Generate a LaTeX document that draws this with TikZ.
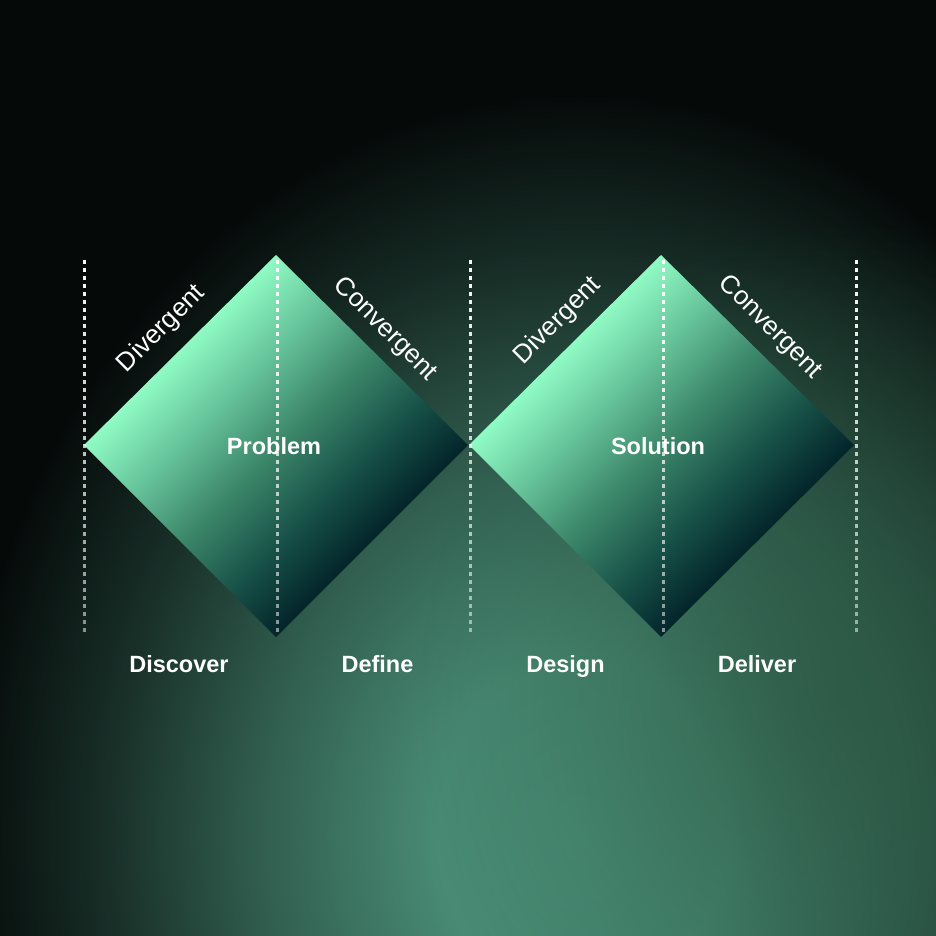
\documentclass[tikz,border=0pt]{standalone}
\usepackage{fontspec}
\setmainfont{Liberation Sans}
\usetikzlibrary{calc, fadings}

\definecolor{bgc}{HTML}{050A09}
\definecolor{side}{HTML}{2C5843}
\definecolor{glow}{HTML}{4B9079}
\definecolor{mint}{HTML}{8FFAC4}
\definecolor{lmid}{HTML}{66C39A}
\definecolor{midg}{HTML}{3C876A}
\definecolor{dmid}{HTML}{164E46}
\definecolor{deep}{HTML}{03252A}

% diamond gradient, light edge to dark edge
\pgfdeclareverticalshading{dmd}{100bp}{color(0bp)=(deep); color(32.3bp)=(deep); color(40bp)=(dmid);
    color(50bp)=(midg); color(59bp)=(lmid); color(67.7bp)=(mint); color(100bp)=(mint)}
% background glow
\pgfdeclareradialshading{glowsh}{\pgfpointorigin}{color(0bp)=(glow); color(6bp)=(glow!95!bgc);
    color(13bp)=(glow!62!bgc); color(19bp)=(glow!28!bgc); color(25bp)=(bgc); color(50bp)=(bgc)}
\tikzfading[name=vfade, top color=transparent!0, bottom color=transparent!50]
\tikzfading[name=glowfade, inner color=transparent!0, outer color=transparent!100]

\begin{document}
\begin{tikzpicture}[x=1pt,y=-1pt,
    dm/.style={shading=dmd, shading angle=45},
    vl/.style={white, line width=3pt, dash pattern=on 4pt off 4pt, path fading=vfade},
    hd/.style={text=white, font=\bfseries\fontsize{23.5}{23.5}\selectfont, inner sep=0pt},
    sd/.style={text=white, font=\fontsize{26}{26}\selectfont, inner sep=0pt}]
            \useasboundingbox (0,0) rectangle (936,936);
            % background
            \fill[bgc] (0,0) rectangle (936,936);
            \begin{scope}
                \clip (0,0) rectangle (936,936);
                \shade[shading=glowsh] (580,835) ellipse (620 and 740);
                \fill[side, opacity=.75, path fading=glowfade] (840,700) ellipse (420 and 480);
            \end{scope}

            % corners of the two diamonds
            \coordinate (pL) at (84,445);
            \coordinate (pT) at (276,255);
            \coordinate (pR) at (468,445);
            \coordinate (pB) at (276,637);
            \coordinate (sL) at (469,445);
            \coordinate (sT) at (661,255);
            \coordinate (sR) at (854,445);
            \coordinate (sB) at (661,637);

            \shade[dm] (pL) -- (pT) -- (pR) -- (pB) -- cycle;
            \shade[dm] (sL) -- (sT) -- (sR) -- (sB) -- cycle;

            % dotted phase lines (the move-tos give the fading some width)
            \coordinate (t1) at (84,260);   \coordinate (b1) at (84,632);
            \coordinate (t2) at (277,260);  \coordinate (b2) at (277,632);
            \coordinate (t3) at (470,260);  \coordinate (b3) at (470,632);
            \coordinate (t4) at (663,260);  \coordinate (b4) at (663,632);
            \coordinate (t5) at (856,260);  \coordinate (b5) at (856,632);
            \draw[vl] (t1) -- (b1) ($(t1)+(-2,0)$) ($(t1)+(2,0)$);
            \draw[vl] (t2) -- (b2) ($(t2)+(-2,0)$) ($(t2)+(2,0)$);
            \draw[vl] (t3) -- (b3) ($(t3)+(-2,0)$) ($(t3)+(2,0)$);
            \draw[vl] (t4) -- (b4) ($(t4)+(-2,0)$) ($(t4)+(2,0)$);
            \draw[vl] (t5) -- (b5) ($(t5)+(-2,0)$) ($(t5)+(2,0)$);

            % labels
            \node[hd] (problem) at (274,446) {Problem};
            \node[hd] (solution) at (658,446) {Solution};

            \node[sd, rotate=45] (div1) at (161.5,329) {Divergent};
            \node[sd, rotate=-45] (con1) at (385,329.5) {Convergent};
            \node[sd, rotate=45] (div2) at (558,321) {Divergent};
            \node[sd, rotate=-45] (con2) at (770,327.5) {Convergent};

            \node[hd, anchor=base] (discover) at (179,672) {Discover};
            \node[hd, anchor=base] (define) at (377.5,672) {Define};
            \node[hd, anchor=base] (design) at (565.5,672) {Design};
            \node[hd, anchor=base] (deliver) at (757,672) {Deliver};
        \end{tikzpicture}
\end{document}
